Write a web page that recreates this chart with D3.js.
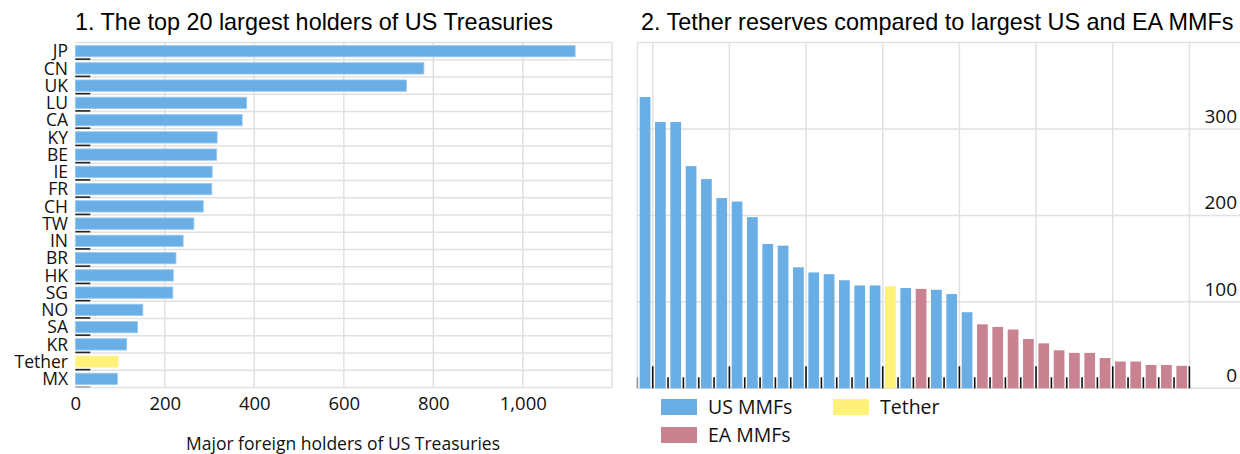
<!DOCTYPE html>
<html><head><meta charset="utf-8">
<script src="https://cdn.jsdelivr.net/npm/d3@7"></script>
<style>body{margin:0;background:#fff}svg{display:block}</style>
</head><body>
<script>
// ---- data ----
const countries = ["JP","CN","UK","LU","CA","KY","BE","IE","FR","CH","TW","IN","BR","HK","SG","NO","SA","KR","Tether","MX"];
const holdings = [1117,779,740,383,373,317,316,306,305,286,265,241,225,219,218,151,139,115,96,94];
const leftTicks = [0,200,400,600,800,1000];

const funds = ["F1","F2","F3","F4","F5","F6","F7","F8","F9","F10","F11","F12","F13","F14","F15","F16","F17","F18",
  "F19","F20","F21","F22","F23","F24","F25","F26","F27","F28","F29","F30","F31","F32","F33","F34","F35","F36"];
const fundType = ["US","US","US","US","US","US","US","US","US","US","US","US","US","US","US","US","Tether","US",
  "EA","US","US","US","EA","EA","EA","EA","EA","EA","EA","EA","EA","EA","EA","EA","EA","EA"];
const reserves = [337,308,308,257,242,220,216,198,167,165,140,134,132,125,119,119,118,116,
  115,114,109,88,74,71,68,57,52,44,41,41,35,31,31,27,27,26];
const rightTicks = [0,100,200,300];
const legendKeys = ["US","Tether","EA"];
const legendLabels = ["US MMFs","Tether","EA MMFs"];

// ---- style ----
const colors = {US:"#6aaee6", Tether:"#fff17a", EA:"#c98290"};
const gridColor = "#e1e1e1";
const font = "'Open Sans', sans-serif";
const titleFont = "'Liberation Sans', Arial, sans-serif";

const W = 1240, H = 454;
const svg = d3.select("body").append("svg").attr("width", W).attr("height", H);

// ---- left chart ----
const L = {x0: 75.3, x1: 612, y0: 42.5, y1: 387.5};
const x = d3.scaleLinear().domain([0,1200]).range([L.x0, L.x0 + 0.4475*1200]);
const y = d3.scaleBand().domain(countries).range([L.y0, L.y1]).paddingInner(0.34).paddingOuter(0.17);

svg.append("text").attr("x", 75).attr("y", 30).attr("font-family", titleFont)
  .attr("font-size", 23.4).text("1. The top 20 largest holders of US Treasuries");

const gl = svg.append("g");
const step = (L.y1 - L.y0) / countries.length;
gl.selectAll("line.h").data(d3.range(countries.length + 1)).join("line")
  .attr("x1", L.x0).attr("x2", L.x1)
  .attr("y1", i => L.y0 + i*step).attr("y2", i => L.y0 + i*step)
  .attr("stroke", gridColor).attr("stroke-width", 1.5);
gl.selectAll("line.v").data(leftTicks.slice(1).concat([1200])).join("line")
  .attr("x1", d => Math.min(x(d), L.x1)).attr("x2", d => Math.min(x(d), L.x1))
  .attr("y1", L.y0).attr("y2", L.y1)
  .attr("stroke", gridColor).attr("stroke-width", 1.5);

svg.append("g").selectAll("rect").data(countries).join("rect")
  .attr("x", x(0)).attr("y", d => y(d))
  .attr("width", (d,i) => x(holdings[i]) - x(0)).attr("height", y.bandwidth())
  .attr("fill", d => d === "Tether" ? colors.Tether : colors.US)
  .attr("stroke", d => d === "Tether" ? "#fff6b0" : "#9ccbf0").attr("stroke-width", 0.8);

// small tick marks at row boundaries
svg.append("g").selectAll("line").data(d3.range(1, countries.length + 1)).join("line")
  .attr("x1", L.x0).attr("x2", L.x0 + 15)
  .attr("y1", i => L.y0 + i*step - 0.6).attr("y2", i => L.y0 + i*step - 0.6)
  .attr("stroke", i => i === countries.length ? "#aaa" : "#222").attr("stroke-width", 1.6);

// y labels
svg.append("g").selectAll("text").data(countries).join("text")
  .attr("x", 68).attr("y", d => y(d) + y.bandwidth()/2)
  .attr("dy", "0.36em").attr("text-anchor", "end")
  .attr("font-family", font).attr("font-size", 17.5).attr("fill", "#111")
  .text(d => d);

// x axis
const xAxis = d3.axisBottom(x).tickValues(leftTicks).tickSize(0).tickFormat(d3.format(","));
const xg = svg.append("g").attr("transform", `translate(0,${L.y1})`).call(xAxis);
xg.select(".domain").remove();
xg.selectAll("text").attr("font-family", font).attr("font-size", 18.5).attr("fill", "#111").attr("dy", "1.05em");

svg.append("text").attr("x", 343).attr("y", 449.5).attr("text-anchor","middle")
  .attr("font-family", font).attr("font-size", 17.5).attr("fill","#111")
  .text("Major foreign holders of US Treasuries");

// ---- right chart ----
const R = {x0: 637.4, xEnd: 1240, y0: 42.5, y1: 388.3};
const bw = 15.333;
const xb = d3.scaleBand().domain(funds).range([R.x0, R.x0 + bw*funds.length]).paddingInner(0.3).paddingOuter(0.15);
const yr = d3.scaleLinear().domain([0,400]).range([R.y1, R.y0]);

svg.append("text").attr("x", 641).attr("y", 30).attr("font-family", titleFont)
  .attr("font-size", 23.4).text("2. Tether reserves compared to largest US and EA MMFs");

const gr = svg.append("g");
gr.selectAll("line.h").data([0,100,200,300,400]).join("line")
  .attr("x1", R.x0).attr("x2", R.xEnd)
  .attr("y1", d => yr(d)).attr("y2", d => yr(d))
  .attr("stroke", gridColor).attr("stroke-width", 1.5);
const vIdx = d3.range(0, funds.length + 1).filter(k => k === 0 || (k - 1) % 5 === 0);
gr.selectAll("line.v").data(vIdx).join("line")
  .attr("x1", k => R.x0 + k*bw).attr("x2", k => R.x0 + k*bw)
  .attr("y1", R.y0).attr("y2", R.y1)
  .attr("stroke", gridColor).attr("stroke-width", 1.5);

svg.append("g").selectAll("rect").data(funds).join("rect")
  .attr("x", d => xb(d)).attr("width", xb.bandwidth())
  .attr("y", (d,i) => yr(reserves[i])).attr("height", (d,i) => yr(0) - yr(reserves[i]))
  .attr("fill", (d,i) => colors[fundType[i]]);

// category ticks
svg.append("g").selectAll("line").data(d3.range(0, funds.length + 1)).join("line")
  .attr("x1", k => R.x0 + k*bw).attr("x2", k => R.x0 + k*bw)
  .attr("y1", k => k > 0 && (k - 1) % 5 === 0 ? R.y1 - 22 : R.y1 - 11).attr("y2", R.y1)
  .attr("stroke", k => k === 0 ? "#999" : "#111").attr("stroke-width", 1.6);

// y axis labels (right)
svg.append("g").selectAll("text").data(rightTicks).join("text")
  .attr("x", 1237).attr("y", d => yr(d) - 6).attr("text-anchor","end")
  .attr("font-family", font).attr("font-size", 19).attr("fill","#111")
  .text(d => d3.format(",")(d));

// legend
const legendPos = [[661,399],[833,399],[661,427]];
const lg = svg.append("g").selectAll("g").data(legendKeys).join("g")
  .attr("transform", (d,i) => `translate(${legendPos[i][0]},${legendPos[i][1]})`);
lg.append("rect").attr("width", 36).attr("height", 16).attr("fill", d => colors[d]);
lg.append("text").attr("x", 47).attr("y", 8).attr("dy","0.36em")
  .attr("font-family", font).attr("font-size", 19.5).attr("fill","#111")
  .text((d,i) => legendLabels[i]);
</script>
</body></html>
